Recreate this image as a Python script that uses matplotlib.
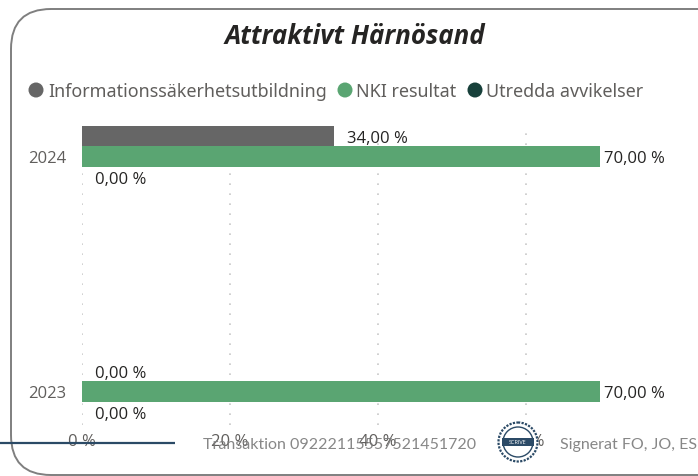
import matplotlib
matplotlib.use('Agg')
import matplotlib.pyplot as plt
from matplotlib.patches import FancyBboxPatch, Circle

# data
years = ['2023', '2024']
utbildning = [0, 34]
nki = [70, 70]
avvikelser = [0, 0]
x_ticks = [0, 20, 40, 60]

W, H = 698, 477
plt.rcParams['font.family'] = ['Open Sans', 'DejaVu Sans']

fig = plt.figure(figsize=(W / 100, H / 100), dpi=100)

# overlay in pixel coords for frame, title etc
bg = fig.add_axes([0, 0, 1, 1])
bg.set_xlim(0, W)
bg.set_ylim(H, 0)
bg.axis('off')
bg.add_patch(FancyBboxPatch((11 + 40, 10 + 40), 700 - 40, 466 - 80,
                            boxstyle='round,pad=40,rounding_size=40',
                            fc='white', ec='#7f7f7f', lw=1.4, clip_on=True))
bg.text(354.5, 37, 'Attraktivt Härnösand', fontsize=18.6, fontweight='bold', style='italic',
        color='#252423', ha='center', va='center')

# legend
grey, green, dark = '#666666', '#5AA572', '#17403A'
for cx, col, tx, label in [(36, grey, 48, 'Informationssäkerhetsutbildning'),
                           (345, green, 356, 'NKI resultat'),
                           (475, dark, 486, 'Utredda avvikelser')]:
    bg.add_patch(Circle((cx, 91), 7.5, fc=col, ec='none'))
    bg.text(tx, 92, label, fontsize=12.9, color='#605E5C', ha='left', va='center',
            family=['Noto Sans', 'DejaVu Sans'])

# chart axes: 82..640 px wide, 126..425 px tall
ax = fig.add_axes([82 / W, 1 - 425.5 / H, 558 / W, 299 / H])
ax.patch.set_alpha(0)
ax.set_xlim(0, 558 / 7.4)
ax.set_ylim(-33 / 235, 1 + 31 / 235)

y = [0, 1]
h = 20.5 / 235
ax.barh([v + h for v in y], utbildning, height=h, color=grey, zorder=3)
ax.barh(y, nki, height=h, color=green, zorder=3)
ax.barh([v - h for v in y], avvikelser, height=h, color=dark, zorder=3)

def pct(v):
    return ('%.2f' % v).replace('.', ',') + ' %'

for i in range(len(years)):
    ax.annotate(pct(utbildning[i]), (utbildning[i], y[i] + h), xytext=(13, -2),
                textcoords='offset pixels', fontsize=12, color='#252423', va='center', zorder=5)
    ax.annotate(pct(nki[i]), (nki[i], y[i]), xytext=(4, -2),
                textcoords='offset pixels', fontsize=12, color='#252423', va='center', zorder=5)
    ax.annotate(pct(avvikelser[i]), (avvikelser[i], y[i] - h), xytext=(13, -2),
                textcoords='offset pixels', fontsize=12, color='#252423', va='center', zorder=5)

ax.set_yticks(y)
ax.set_yticklabels(years, fontsize=12, color='#605E5C')
ax.set_xticks(x_ticks)
ax.set_xticklabels([str(t) + ' %' for t in x_ticks], fontsize=12, color='#605E5C')
ax.tick_params(length=0, axis='both')
ax.tick_params(axis='y', pad=11)
ax.tick_params(axis='x', pad=6)
ax.grid(axis='x', color='#c8c8c8', linestyle=(0, (1, 5)), lw=1.2, zorder=0)
for s in ax.spines.values():
    s.set_visible(False)

# footer on top of the chart
top = fig.add_axes([0, 0, 1, 1], zorder=10)
top.set_xlim(0, W)
top.set_ylim(H, 0)
top.axis('off')
top.plot([0, 175], [444, 444], color='#2B4A66', lw=1.6, solid_capstyle='butt')
top.text(203, 445, 'Transaktion 09222115557521451720', fontsize=11.5, color='#7a7a7a',
         ha='left', va='center', family=['Lato', 'DejaVu Sans'], alpha=0.9)
top.text(560, 445, 'Signerat FO, JO, ES', fontsize=11.5, color='#7a7a7a', ha='left', va='center',
         family=['Lato', 'DejaVu Sans'], alpha=0.9, clip_on=True)

# seal
top.add_patch(Circle((518, 443), 19.5, fc='white', ec='#2B4A66', lw=1.6, linestyle=(0, (1, 0.6))))
top.add_patch(Circle((518, 443), 15, fc='white', ec='#2B4A66', lw=1))
top.add_patch(plt.Rectangle((502, 439), 32, 8, fc='#2B4A66', ec='none'))
top.text(518, 443, 'SCRIVE', fontsize=4, color='white', ha='center', va='center')

fig.savefig('out.png', dpi=100)
